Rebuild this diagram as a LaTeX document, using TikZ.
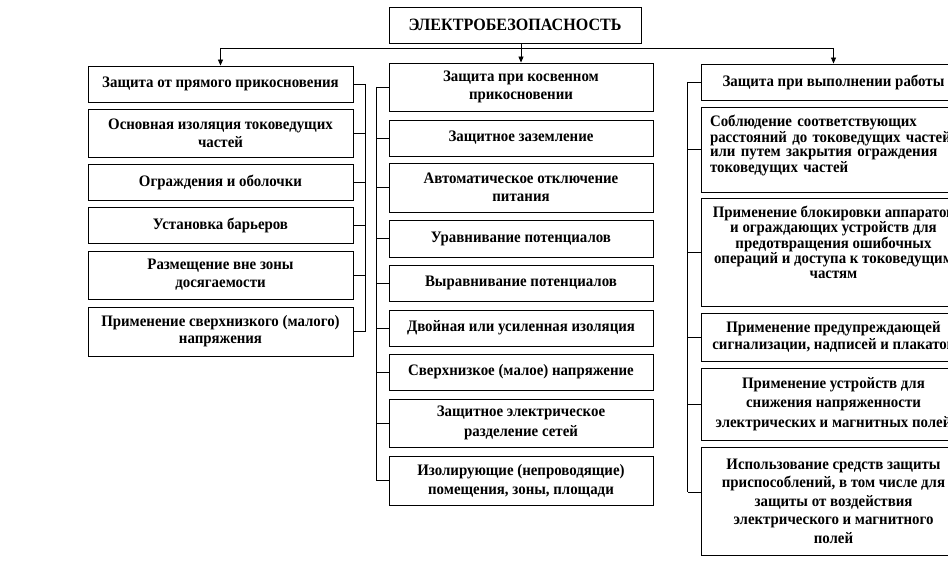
\documentclass[tikz,border=0pt]{standalone}
\usepackage{fontspec}
\setmainfont{Liberation Serif}[FakeStretch=0.93]
\usetikzlibrary{arrows.meta,calc}
\begin{document}
\begin{tikzpicture}[x=1pt,y=-1pt,
  box/.style={draw=black,line width=0.9pt,fill=white,inner sep=2pt,align=center,
    font=\bfseries\fontsize{16}{18}\selectfont},
  lbox/.style={box,minimum width=265pt},
  txt/.style={inner sep=0pt,align=center,font=\bfseries\fontsize{16}{14.3}\selectfont},
  conn/.style={line width=0.8pt},
  arr/.style={line width=0.8pt,-{Triangle[width=5pt,length=6pt]}}]
\useasboundingbox (0,0) rectangle (948,588);
\clip (0,0) rectangle (948,588);
% top
\node[box,minimum width=252pt,minimum height=36pt,font=\bfseries\fontsize{17.3}{18}\selectfont] (top) at (515,25) {ЭЛЕКТРОБЕЗОПАСНОСТЬ};
% left column
\node[lbox,minimum height=36pt] (l1) at (220.5,84) {Защита от прямого прикосновения};
\node[lbox,minimum height=48pt] (l2) at (220.5,133) {Основная изоляция токоведущих\\частей};
\node[lbox,minimum height=36pt] (l3) at (220.5,182) {Ограждения и оболочки};
\node[lbox,minimum height=36pt] (l4) at (220.5,225) {Установка барьеров};
\node[lbox,minimum height=48pt] (l5) at (220.5,275) {Размещение вне зоны\\досягаемости};
\node[lbox,minimum height=49pt,font=\bfseries\fontsize{16}{17}\selectfont] (l6) at (220.5,331.5) {Применение сверхнизкого (малого)\\напряжения};
% middle column
\node[lbox,minimum width=264pt,minimum height=48pt] (m1) at (521,87) {Защита при косвенном\\прикосновении};
\node[lbox,minimum width=264pt,minimum height=36pt] (m2) at (521,138) {Защитное заземление};
\node[lbox,minimum width=264pt,minimum height=49pt] (m3) at (521,187.5) {Автоматическое отключение\\питания};
\node[lbox,minimum width=264pt,minimum height=37pt] (m4) at (521,238.5) {Уравнивание потенциалов};
\node[lbox,minimum width=264pt,minimum height=36pt] (m5) at (521,283) {Выравнивание потенциалов};
\node[lbox,minimum width=264pt,minimum height=36pt] (m6) at (521,328) {Двойная или усиленная изоляция};
\node[lbox,minimum width=264pt,minimum height=36pt] (m7) at (521,372) {Сверхнизкое (малое) напряжение};
\node[lbox,minimum width=264pt,minimum height=48pt,font=\bfseries\fontsize{16}{20}\selectfont] (m8) at (521,423) {Защитное электрическое\\разделение сетей};
\node[lbox,minimum width=264pt,minimum height=49pt,font=\bfseries\fontsize{16}{19}\selectfont] (m9) at (521,480.5) {Изолирующие (непроводящие)\\помещения, зоны, площади};
% right column
\node[lbox,minimum height=36pt] (r1) at (833.5,82) {Защита при выполнении работы};
\node[lbox,minimum height=85pt] (r2) at (833.5,149.5) {};
\node[txt,align=left,text width=252pt] (r2t) at (836,145.5) {Соблюдение соответствующих\\расстояний до токоведущих частей\\или путем закрытия ограждения\\токоведущих частей};
\node[lbox,minimum height=108pt] (r3) at (833.5,252) {};
\node[txt] (r3t) at (833.5,242) {Применение блокировки аппаратов\\и ограждающих устройств для\\предотвращения ошибочных\\операций и доступа к токоведущим\\частям};
\node[lbox,minimum height=48pt,font=\bfseries\fontsize{16}{17}\selectfont] (r4) at (833.5,337) {Применение предупреждающей\\сигнализации, надписей и плакатов};
\node[lbox,minimum height=72pt,font=\bfseries\fontsize{16}{19.5}\selectfont] (r5) at (833.5,404) {Применение устройств для\\снижения напряженности\\электрических и магнитных полей};
\node[lbox,minimum height=108pt,font=\bfseries\fontsize{16}{18.5}\selectfont] (r6) at (833.5,501) {Использование средств защиты\\приспособлений, в том числе для\\защиты от воздействия\\электрического и магнитного\\полей};
% bus and arrows
\coordinate (bus) at (0,48);
\draw[conn] (l1.north |- bus) -- (r1.north |- bus);
\draw[arr] (l1.north |- bus) -- (l1.north);
\draw[arr] (m1.north |- top.south) -- (m1.north);
\draw[arr] (r1.north |- bus) -- (r1.north);
% left connectors
\foreach \n in {1,...,6}{\draw[conn] (l\n.east) -- ++(12,0) coordinate (lb\n);}
\draw[conn] (lb1) -- (lb6);
% middle connectors
\foreach \n in {1,...,9}{\draw[conn] (m\n.west) -- ++(-12,0) coordinate (mb\n);}
\draw[conn] (mb1) -- (mb9);
% right connectors
\foreach \n in {1,...,5}{\draw[conn] (r\n.west) -- ++(-13,0) coordinate (rb\n);}
\draw[conn] ([yshift=9pt]r6.west) -- ++(-13,0) coordinate (rb6);
\draw[conn] (rb1) -- (rb6);
\end{tikzpicture}
\end{document}
